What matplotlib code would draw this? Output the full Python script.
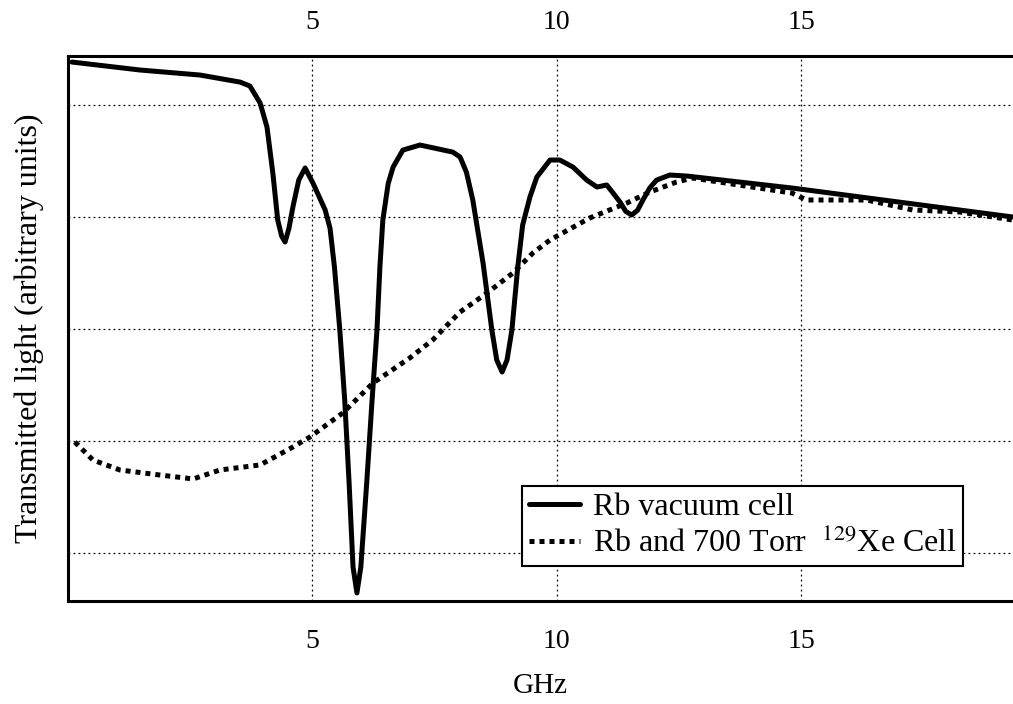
import matplotlib
matplotlib.use("Agg")
import matplotlib.pyplot as plt

# Rb vacuum cell transmission (GHz, arbitrary units)
vac_ghz = [0.08, 1.47, 2.70, 3.52, 3.72, 3.93, 4.07, 4.19, 4.29, 4.37, 4.44, 4.52,
           4.60, 4.72, 4.85, 5.01, 5.26, 5.36, 5.45, 5.56, 5.66, 5.75, 5.83, 5.91,
           5.99, 6.11, 6.22, 6.32, 6.38, 6.44, 6.55, 6.65, 6.85, 7.20, 7.87, 8.02,
           8.15, 8.28, 8.49, 8.67, 8.77, 8.88, 8.98, 9.08, 9.20, 9.30, 9.45, 9.59,
           9.86, 10.06, 10.33, 10.61, 10.82, 11.02, 11.15, 11.29, 11.41, 11.53,
           11.65, 11.76, 11.90, 12.04, 12.31, 12.66, 14.81, 19.33]
vac_signal = [5.384, 5.313, 5.268, 5.205, 5.170, 5.018, 4.804, 4.393, 3.973, 3.830,
              3.777, 3.900, 4.089, 4.330, 4.438, 4.304, 4.063, 3.900, 3.554, 2.991,
              2.366, 1.625, 0.875, 0.643, 0.875, 1.625, 2.366, 2.991, 3.554, 3.973,
              4.300, 4.446, 4.598, 4.643, 4.580, 4.536, 4.400, 4.152, 3.589, 2.991,
              2.723, 2.616, 2.723, 2.991, 3.554, 3.929, 4.180, 4.357, 4.509, 4.509,
              4.446, 4.330, 4.268, 4.286, 4.214, 4.134, 4.050, 4.018, 4.060, 4.152,
              4.260, 4.330, 4.375, 4.366, 4.259, 4.000]

# Rb + 700 Torr 129Xe cell transmission
xe_ghz = [0.14, 0.51, 1.06, 1.88, 2.56, 3.11, 3.93, 4.60, 4.95, 5.62, 6.24, 6.99,
          7.46, 8.02, 8.57, 9.10, 9.51, 9.86, 10.67, 11.43, 11.90, 12.45, 12.78,
          14.81, 15.11, 15.52, 16.34, 17.28, 18.24, 19.33]
xe_signal = [1.991, 1.830, 1.741, 1.696, 1.661, 1.741, 1.786, 1.946, 2.036, 2.250,
             2.518, 2.741, 2.902, 3.152, 3.321, 3.500, 3.679, 3.795, 3.991, 4.125,
             4.223, 4.313, 4.348, 4.214, 4.152, 4.152, 4.152, 4.063, 4.045, 3.973]

x_ticks = [5, 10, 15]
y_grid = [1, 2, 3, 4, 5]

plt.rcParams["font.family"] = ["Liberation Serif", "DejaVu Serif"]
plt.rcParams["mathtext.fontset"] = "stix"

fig = plt.figure(figsize=(10.13, 7.04), dpi=100)
ax = fig.add_axes([68 / 1013, 1 - 601 / 704, 945 / 1013, 545 / 704])

ax.plot(vac_ghz, vac_signal, color="black", lw=3.6, solid_joinstyle="round",
        solid_capstyle="round", label="Rb vacuum cell")
ax.plot(xe_ghz, xe_signal, color="black", lw=3.6, linestyle=(0, (1, 1)),
        dash_capstyle="butt", label=r"Rb and 700 Torr  $^{129}$Xe Cell")

ax.set_xlim(0, 19.33)
ax.set_ylim(0.571, 5.438)
ax.set_xticks(x_ticks)
ax.set_yticks(y_grid)
ax.set_yticklabels([])
ax.grid(True, linestyle=(0, (1.5, 2.5)), color="black", lw=0.9)
ax.tick_params(axis="x", length=0, labelsize=20, pad=20)
ax.tick_params(axis="y", length=0)

# Same frequency scale repeated along the top edge
top = ax.secondary_xaxis("top")
top.set_xticks(x_ticks)
top.tick_params(axis="x", length=0, labelsize=20, pad=15)
top.spines["top"].set_visible(False)

for side in ("left", "top", "bottom"):
    ax.spines[side].set_linewidth(2.2)
ax.spines["right"].set_visible(False)

ax.set_xlabel("GHz", fontsize=21, labelpad=14)
ax.set_ylabel("Transmitted light (arbitrary units)", fontsize=23, labelpad=14)

leg = ax.legend(loc="upper right", bbox_to_anchor=(0.947, 0.211), borderaxespad=0,
                fontsize=23, fancybox=False, framealpha=1, edgecolor="black",
                handlelength=1.6, handletextpad=0.4, labelspacing=0.2,
                borderpad=0.2)
leg.get_frame().set_linewidth(1.5)

fig.savefig("out.png", dpi=100)
